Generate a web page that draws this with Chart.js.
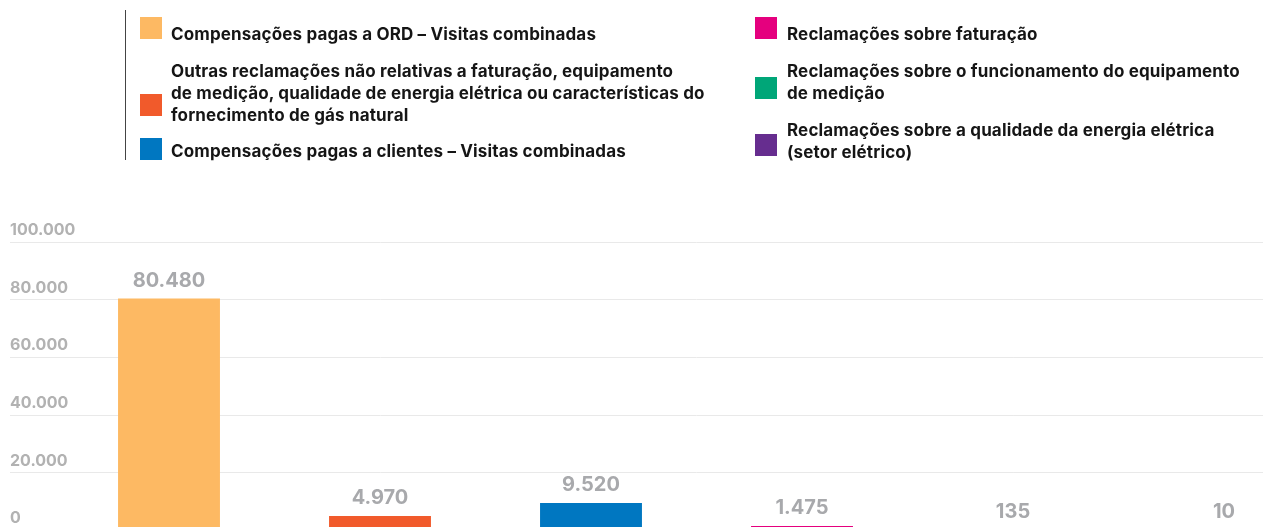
<!DOCTYPE html>
<html>
<head>
<meta charset="utf-8">
<script src="https://cdn.jsdelivr.net/npm/chart.js@4"></script>
<style>
  html, body { margin: 0; padding: 0; background: #fff; overflow: hidden; width: 1263px; height: 527px; }
  #wrap { position: relative; width: 1263px; height: 527px; overflow: hidden; }
  #chartBox { position: absolute; left: 0; top: 0; width: 1340px; height: 545px; }
  .vline { position: absolute; left: 125px; top: 10px; width: 1px; height: 150px; background: #444; }
  .box { position: absolute; width: 22px; height: 22px; }
  .txt { position: absolute; font-family: Inter, "Noto Sans", sans-serif; font-weight: 700; font-size: 17px; letter-spacing: 0.15px; line-height: 22px; color: #151515; white-space: nowrap; }
</style>
</head>
<body>
<div id="wrap">
  <div id="chartBox"><canvas id="c"></canvas></div>
  <div id="legend"></div>
</div>
<script>
const categories = [
  "Compensações pagas a ORD – Visitas combinadas",
  "Outras reclamações não relativas a faturação, equipamento\nde medição, qualidade de energia elétrica ou características do\nfornecimento de gás natural",
  "Compensações pagas a clientes – Visitas combinadas",
  "Reclamações sobre faturação",
  "Reclamações sobre o funcionamento do equipamento\nde medição",
  "Reclamações sobre a qualidade da energia elétrica\n(setor elétrico)"
];
const values = [80480, 4970, 9520, 1475, 135, 10];
const colors = ["#FDB963", "#F15A2B", "#0077C1", "#E5007E", "#00A678", "#662D8F"];
const yTicks = [0, 20000, 40000, 60000, 80000, 100000];

function fmt(v) {
  return String(v).replace(/\B(?=(\d{3})+(?!\d))/g, ".");
}

// HTML legend (layout only)
const legendPos = [
  { bx: 140, by: 17, tx: 171, ty: 23 },
  { bx: 140, by: 94, tx: 171, ty: 60 },
  { bx: 140, by: 138, tx: 171, ty: 140 },
  { bx: 755, by: 17, tx: 787, ty: 23 },
  { bx: 755, by: 77, tx: 787, ty: 60 },
  { bx: 755, by: 134, tx: 787, ty: 119 }
];
const legend = document.getElementById("legend");
const vl = document.createElement("div"); vl.className = "vline"; legend.appendChild(vl);
categories.forEach((cat, i) => {
  const p = legendPos[i];
  const b = document.createElement("div");
  b.className = "box";
  b.style.left = p.bx + "px"; b.style.top = p.by + "px"; b.style.background = colors[i];
  legend.appendChild(b);
  const t = document.createElement("div");
  t.className = "txt";
  t.style.left = p.tx + "px"; t.style.top = p.ty + "px";
  t.innerHTML = cat.split("\n").join("<br>");
  legend.appendChild(t);
});

const valueLabels = {
  id: "valueLabels",
  afterDatasetsDraw(chart) {
    const ctx = chart.ctx;
    const meta = chart.getDatasetMeta(0);
    ctx.save();
    ctx.font = "700 20px Inter, 'Noto Sans', sans-serif";
    ctx.fillStyle = "#a8a9ac";
    ctx.textAlign = "center";
    ctx.textBaseline = "middle";
    meta.data.forEach((bar, i) => {
      ctx.fillText(fmt(values[i]), bar.x, bar.y - 18);
    });
    ctx.restore();
  }
};

new Chart(document.getElementById("c"), {
  type: "bar",
  data: {
    labels: categories,
    datasets: [{
      data: values,
      backgroundColor: colors,
      borderWidth: 0,
      categoryPercentage: 1,
      barPercentage: 0.483
    }]
  },
  options: {
    responsive: true,
    maintainAspectRatio: false,
    animation: false,
    layout: { padding: { left: 10, top: 242.3, right: 10.5, bottom: 14.7 } },
    plugins: { legend: { display: false }, tooltip: { enabled: false } },
    scales: {
      x: { display: false },
      y: {
        min: 0, max: 100000,
        afterBuildTicks(scale) { scale.ticks = yTicks.map(v => ({ value: v })); },
        afterFit(scale) { scale.width = 53.5; },
        border: { display: false },
        grid: { color: "#e9e9e9", lineWidth: 1, drawTicks: true, tickLength: 53.5, tickColor: "#e9e9e9" },
        ticks: {
          mirror: true,
          crossAlign: "near",
          labelOffset: -12,
          padding: -53.5,
          color: "#b2b2b2",
          font: { family: "Inter, 'Noto Sans', sans-serif", weight: "700", size: 16 },
          callback: (v) => fmt(v)
        }
      }
    }
  },
  plugins: [valueLabels]
});
</script>
</body>
</html>
